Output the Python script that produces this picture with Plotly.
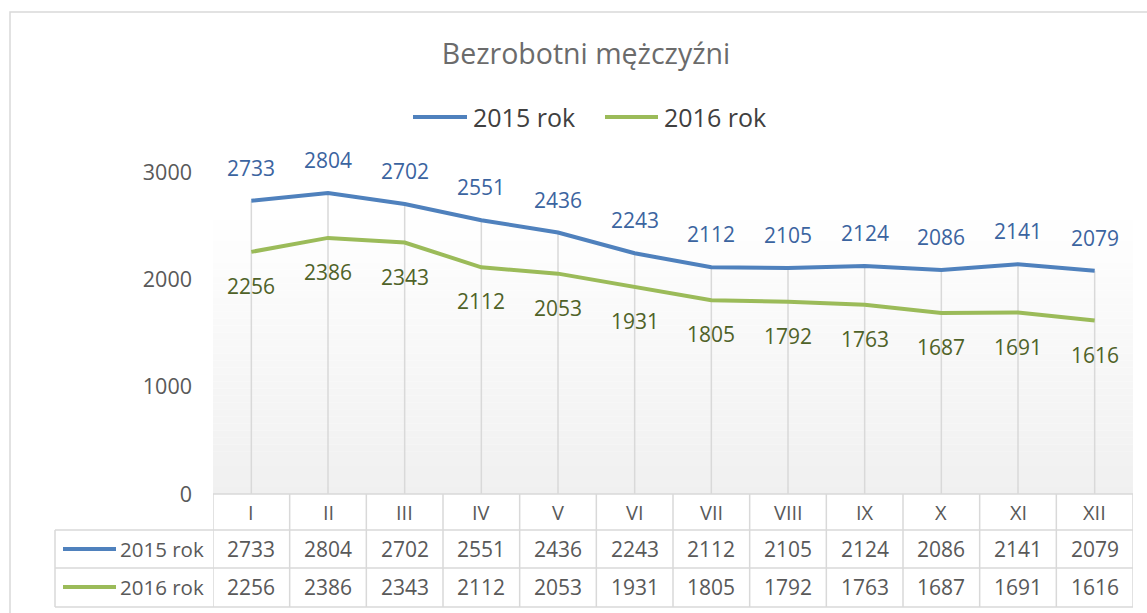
import plotly.graph_objects as go

categories = ["I", "II", "III", "IV", "V", "VI", "VII", "VIII", "IX", "X", "XI", "XII"]
series_names = ["2015 rok", "2016 rok"]
values_2015 = [2733, 2804, 2702, 2551, 2436, 2243, 2112, 2105, 2124, 2086, 2141, 2079]
values_2016 = [2256, 2386, 2343, 2112, 2053, 1931, 1805, 1792, 1763, 1687, 1691, 1616]
y_ticks = [0, 1000, 2000, 3000]
title_text = "Bezrobotni mężczyźni"

W, H = 1147, 613
PL, PR, PT, PB = 213, 1133, 172, 494  # plot area pixel box
FONT = "Open Sans"
LINE_COLORS = ["#4F81BD", "#9BBB59"]
LABEL_COLORS = ["#3B64A0", "#4F6228"]
GRID = "#D9D9D9"
TXT = "#595959"


def px_x(p):
    return (p - PL) / (PR - PL)


def px_y(p):
    return (PB - p) / (PB - PT)


fig = go.Figure()
series = [values_2015, values_2016]
for name, vals, col in zip(series_names, series, LINE_COLORS):
    fig.add_trace(go.Scatter(x=categories, y=vals, name=name, mode="lines",
                             line=dict(color=col, width=4), showlegend=False))

shapes = []
# gradient plot background
n = 40
top, bot = px_y(213), 0.0
for k in range(n):
    y0 = top - (top - bot) * k / n
    y1 = top - (top - bot) * (k + 1) / n
    c = int(round(255 - (255 - 240) * (k + 0.5) / n))
    shapes.append(dict(type="rect", xref="paper", yref="paper", x0=0, x1=1, y0=y1, y1=y0,
                       fillcolor=f"rgb({c},{c},{c})", line=dict(width=0), layer="below"))
# outer chart border
shapes.append(dict(type="rect", xref="paper", yref="paper", x0=px_x(10), x1=px_x(1160),
                   y0=px_y(630), y1=px_y(12), line=dict(color=GRID, width=1.5), layer="below"))
# drop lines
for i, c in enumerate(categories):
    shapes.append(dict(type="line", xref="x", yref="y", x0=i, x1=i, y0=0,
                       y1=max(values_2015[i], values_2016[i]),
                       line=dict(color=GRID, width=1.5), layer="below"))

# data table
row_y = [494, 530, 568, 607]
for yy in row_y:
    x0 = PL if yy == 494 else 55
    shapes.append(dict(type="line", xref="paper", yref="paper", x0=px_x(x0), x1=1,
                       y0=px_y(yy), y1=px_y(yy), line=dict(color=GRID, width=1.5)))
shapes.append(dict(type="line", xref="paper", yref="paper", x0=px_x(55), x1=px_x(55),
                   y0=px_y(530), y1=px_y(607), line=dict(color=GRID, width=1.5)))
for i in range(len(categories) + 1):
    shapes.append(dict(type="line", xref="x", yref="paper", x0=i - 0.5, x1=i - 0.5,
                       y0=px_y(494), y1=px_y(607), line=dict(color=GRID, width=1.5)))

annotations = []
# data labels
for i, c in enumerate(categories):
    annotations.append(dict(x=c, y=values_2015[i], xref="x", yref="y", text=str(values_2015[i]),
                            showarrow=False, yshift=33, xanchor="center", yanchor="middle",
                            font=dict(family=FONT, size=21, color=LABEL_COLORS[0])))
    annotations.append(dict(x=c, y=values_2016[i], xref="x", yref="y", text=str(values_2016[i]),
                            showarrow=False, yshift=-34, xanchor="center", yanchor="middle",
                            font=dict(family=FONT, size=21, color=LABEL_COLORS[1])))
# table text
row_centers = [512, 549, 587]
for i, c in enumerate(categories):
    annotations.append(dict(x=c, y=px_y(row_centers[0]), xref="x", yref="paper", text=c,
                            showarrow=False, xanchor="center", yanchor="middle",
                            font=dict(family=FONT, size=20, color=TXT)))
    for r, vals in enumerate(series):
        annotations.append(dict(x=c, y=px_y(row_centers[r + 1]), xref="x", yref="paper",
                                text=str(vals[i]), showarrow=False,
                                xanchor="center", yanchor="middle",
                                font=dict(family=FONT, size=21, color=TXT)))
for r, (name, col) in enumerate(zip(series_names, LINE_COLORS)):
    yy = px_y(row_centers[r + 1])
    shapes.append(dict(type="line", xref="paper", yref="paper", x0=px_x(63), x1=px_x(116),
                       y0=yy, y1=yy, line=dict(color=col, width=4)))
    annotations.append(dict(x=px_x(206), y=yy, xref="paper", yref="paper", text=name,
                            xanchor="right", yanchor="middle", showarrow=False,
                            font=dict(family=FONT, size=20.5, color=TXT)))

# top legend (drawn manually to match the reference key length)
leg_y = px_y(117)
for (lx0, lx1, tx), name, col in zip([(413, 467, 471), (605, 658, 662)], series_names, LINE_COLORS):
    shapes.append(dict(type="line", xref="paper", yref="paper", x0=px_x(lx0), x1=px_x(lx1),
                       y0=leg_y, y1=leg_y, line=dict(color=col, width=4)))
    annotations.append(dict(x=px_x(tx), y=leg_y, xref="paper", yref="paper", text=name,
                            xanchor="left", yanchor="middle", showarrow=False,
                            font=dict(family=FONT, size=25, color="#404040")))

fig.update_layout(
    width=W, height=H,
    margin=dict(l=PL, r=W - PR, t=PT, b=H - PB),
    paper_bgcolor="white", plot_bgcolor="rgba(0,0,0,0)",
    title=dict(text=title_text, x=586 / W, xanchor="center", y=1 - 54 / H, yanchor="middle",
               font=dict(family=FONT, size=28.5, color="#6B6B6B")),
    xaxis=dict(range=[-0.5, len(categories) - 0.5], showticklabels=False, showgrid=False,
               zeroline=False, showline=False, ticks=""),
    yaxis=dict(range=[0, 3000], tickvals=y_ticks, showgrid=False, zeroline=False,
               showline=False, ticks="", ticklabelstandoff=20,
               tickfont=dict(family=FONT, size=21.5, color=TXT)),
    shapes=shapes, annotations=annotations, showlegend=False,
)

fig.write_html("out.html", config={"displayModeBar": False},
               post_script="document.body.style.margin='0';")
